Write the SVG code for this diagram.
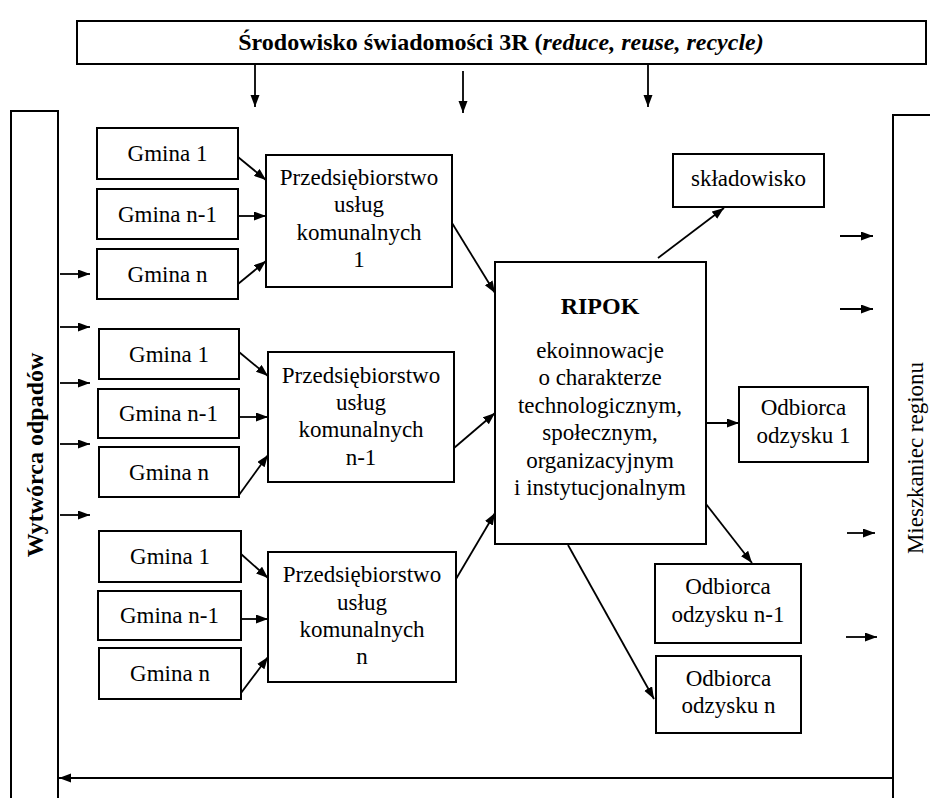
<svg xmlns="http://www.w3.org/2000/svg" width="930" height="798" viewBox="0 0 930 798">
<defs>
<marker id="ah" markerUnits="userSpaceOnUse" markerWidth="14" markerHeight="10" refX="12" refY="4.5" orient="auto">
<path d="M0,0 L12,4.5 L0,9 z" fill="#000"/>
</marker>
<style>
.b{fill:#fff;stroke:#000;stroke-width:2}
.t{font-family:'Liberation Serif',Tinos,'Times New Roman',Times,'DejaVu Serif',serif;font-size:23px;fill:#000;text-anchor:middle}
.tb{font-family:'Liberation Serif',Tinos,'Times New Roman',Times,'DejaVu Serif',serif;font-size:24px;font-weight:bold;fill:#000;text-anchor:middle}
.c line{stroke:#000;stroke-width:1.8;marker-end:url(#ah)}
</style>
</defs>
<rect width="930" height="798" fill="#fff"/>

<g id="srodowisko">
<rect class="b" x="77" y="21" width="849" height="43"/>
<text class="tb" x="501" y="50">Środowisko świadomości 3R (<tspan font-style="italic">reduce, reuse, recycle)</tspan></text>
</g>

<g id="wytworca">
<rect class="b" x="11" y="111" width="47" height="700"/>
<text class="tb" transform="translate(43,455) rotate(-90)">Wytwórca odpadów</text>
</g>

<g id="mieszkaniec">
<rect class="b" x="893" y="115" width="60" height="700"/>
<text class="t" transform="translate(923,458) rotate(-90)">Mieszkaniec regionu</text>
</g>

<g id="g1-1"><rect class="b" x="97" y="128" width="141" height="51"/><text class="t" x="167.5" y="161">Gmina 1</text></g>
<g id="g1-2"><rect class="b" x="97" y="189" width="141" height="50"/><text class="t" x="167.5" y="222">Gmina n-1</text></g>
<g id="g1-3"><rect class="b" x="97" y="249" width="141" height="50"/><text class="t" x="167.5" y="282">Gmina n</text></g>

<g id="g2-1"><rect class="b" x="99" y="329" width="140" height="50"/><text class="t" x="169" y="362">Gmina 1</text></g>
<g id="g2-2"><rect class="b" x="98" y="389" width="141" height="49"/><text class="t" x="168.5" y="421">Gmina n-1</text></g>
<g id="g2-3"><rect class="b" x="99" y="447" width="140" height="50"/><text class="t" x="169" y="480">Gmina n</text></g>

<g id="g3-1"><rect class="b" x="99" y="531" width="142" height="51"/><text class="t" x="170" y="564">Gmina 1</text></g>
<g id="g3-2"><rect class="b" x="98" y="591" width="143" height="49"/><text class="t" x="169.5" y="623">Gmina n-1</text></g>
<g id="g3-3"><rect class="b" x="99" y="648" width="142" height="51"/><text class="t" x="170" y="681">Gmina n</text></g>

<g id="puk1"><rect class="b" x="266" y="155" width="186" height="132"/>
<text class="t"><tspan x="359" y="185">Przedsiębiorstwo</tspan><tspan x="359" y="212">usług</tspan><tspan x="359" y="240">komunalnych</tspan><tspan x="359" y="267">1</tspan></text></g>

<g id="puk2"><rect class="b" x="268" y="352" width="186" height="130"/>
<text class="t"><tspan x="361" y="383">Przedsiębiorstwo</tspan><tspan x="361" y="410">usług</tspan><tspan x="361" y="437">komunalnych</tspan><tspan x="361" y="465">n-1</tspan></text></g>

<g id="puk3"><rect class="b" x="268" y="552" width="188" height="130"/>
<text class="t"><tspan x="362" y="582">Przedsiębiorstwo</tspan><tspan x="362" y="610">usług</tspan><tspan x="362" y="637">komunalnych</tspan><tspan x="362" y="664">n</tspan></text></g>

<g id="ripok"><rect class="b" x="495" y="262" width="211" height="282"/>
<text class="tb" x="600" y="314">RIPOK</text>
<text class="t"><tspan x="600" y="358">ekoinnowacje</tspan><tspan x="600" y="385">o charakterze</tspan><tspan x="600" y="413">technologicznym,</tspan><tspan x="600" y="440">społecznym,</tspan><tspan x="600" y="468">organizacyjnym</tspan><tspan x="600" y="495">i instytucjonalnym</tspan></text></g>

<g id="skladowisko"><rect class="b" x="673" y="154" width="151" height="53"/><text class="t" x="748.5" y="186">składowisko</text></g>

<g id="odb1"><rect class="b" x="739" y="387" width="129" height="75"/>
<text class="t"><tspan x="803.5" y="415">Odbiorca</tspan><tspan x="803.5" y="443">odzysku 1</tspan></text></g>

<g id="odbn1"><rect class="b" x="655" y="564" width="146" height="79"/>
<text class="t"><tspan x="728" y="594">Odbiorca</tspan><tspan x="728" y="622">odzysku n-1</tspan></text></g>

<g id="odbn"><rect class="b" x="656" y="656" width="145" height="77"/>
<text class="t"><tspan x="728.5" y="686">Odbiorca</tspan><tspan x="728.5" y="713">odzysku n</tspan></text></g>

<g id="connectors" class="c">
<line x1="255" y1="64" x2="255" y2="107"/>
<line x1="463" y1="71" x2="463" y2="113"/>
<line x1="648" y1="64" x2="648" y2="107"/>

<line x1="60" y1="274" x2="90" y2="274"/>
<line x1="60" y1="327" x2="90" y2="327"/>
<line x1="60" y1="383" x2="90" y2="383"/>
<line x1="60" y1="444" x2="90" y2="444"/>
<line x1="60" y1="515" x2="90" y2="515"/>

<line x1="238" y1="157" x2="266" y2="180"/>
<line x1="238" y1="216" x2="266" y2="216"/>
<line x1="238" y1="284" x2="266" y2="261"/>

<line x1="239" y1="352" x2="268" y2="376"/>
<line x1="239" y1="417" x2="268" y2="417"/>
<line x1="239" y1="495" x2="268" y2="455"/>

<line x1="241" y1="554" x2="268" y2="578"/>
<line x1="241" y1="619" x2="268" y2="619"/>
<line x1="241" y1="693" x2="268" y2="657"/>

<line x1="452" y1="223" x2="495" y2="293"/>
<line x1="454" y1="448" x2="495" y2="413"/>
<line x1="456" y1="579" x2="495" y2="513"/>

<line x1="658" y1="258" x2="724" y2="208"/>
<line x1="706" y1="423" x2="739" y2="423"/>
<line x1="706" y1="504" x2="752" y2="563"/>
<line x1="568" y1="545" x2="654" y2="699"/>

<line x1="840" y1="236" x2="873" y2="236"/>
<line x1="840" y1="309" x2="873" y2="309"/>
<line x1="847" y1="533" x2="875" y2="533"/>
<line x1="846" y1="637" x2="877" y2="637"/>

<line x1="893" y1="778" x2="59" y2="778"/>
</g>
</svg>
